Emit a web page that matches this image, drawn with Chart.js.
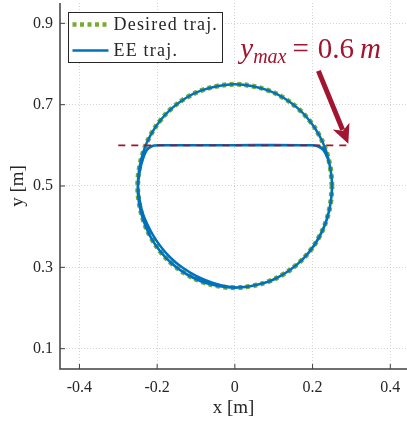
<!DOCTYPE html>
<html lang="en">
<head>
<meta charset="UTF-8">
<title>EE trajectory</title>
<script src="https://cdn.jsdelivr.net/npm/chart.js"></script>
<style>
    body { margin: 0; background: #fff; }
    #chart-container { width: 407px; height: 423px; }
</style>
</head>
<body>
<div id="chart-container"><canvas id="traj-chart"></canvas></div>
<script>
// desired circle (centre 0/0.5, radius 0.25)
const desiredX = [0.25, 0.246, 0.235, 0.217, 0.192, 0.161, 0.125, 0.086, 0.043, 0, -0.043, -0.086, -0.125, -0.161, -0.192, -0.217, -0.235, -0.246,
    -0.25, -0.246, -0.235, -0.217, -0.192, -0.161, -0.125, -0.086, -0.043, 0, 0.043, 0.086, 0.125, 0.161, 0.192, 0.217, 0.235, 0.246, 0.25];
const desiredY = [0.5, 0.543, 0.586, 0.625, 0.661, 0.692, 0.717, 0.735, 0.746, 0.75, 0.746, 0.735, 0.717, 0.692, 0.661, 0.625, 0.586, 0.543,
    0.5, 0.457, 0.414, 0.375, 0.339, 0.308, 0.283, 0.265, 0.254, 0.25, 0.254, 0.265, 0.283, 0.308, 0.339, 0.375, 0.414, 0.457, 0.5];

// measured end-effector path: one free lap, then laps clipped at y = 0.6
const eeX = [
    0, 0.043, 0.086, 0.125, 0.161, 0.192, 0.217, 0.235, 0.246, 0.25, 0.246, 0.235, 0.217, 0.192, 0.161, 0.125, 0.086, 0.043, 0,
    -0.043, -0.086, -0.125, -0.161, -0.192, -0.217, -0.235, -0.246, -0.25, -0.246, -0.235, -0.217, -0.192, -0.161, -0.125, -0.086, -0.043, 0,
    0.043, 0.086, 0.125, 0.161, 0.192, 0.217, 0.235, 0.246, 0.25, 0.247, 0.24, 0.228, 0.212, 0.195, 0.1, 0, -0.1, -0.19, -0.21, -0.224,
    -0.234, -0.243, -0.249, -0.244, -0.236, -0.225, -0.21, -0.19, -0.165, -0.136, -0.1, -0.06, -0.02, 0.02,
    0.06, 0.1, 0.14, 0.175, 0.205, 0.228, 0.243, 0.25, 0.248, 0.242, 0.232, 0.218, 0.2, 0.1, 0, -0.1, -0.2, -0.215, -0.227,
    -0.236, -0.244, -0.25, -0.247, -0.237, -0.22, -0.195, -0.163, -0.125, -0.085, -0.04, 0];
const eeY = [
    0.25, 0.254, 0.265, 0.283, 0.308, 0.339, 0.375, 0.414, 0.457, 0.5, 0.543, 0.586, 0.625, 0.661, 0.692, 0.717, 0.735, 0.746, 0.75,
    0.746, 0.735, 0.717, 0.692, 0.661, 0.625, 0.586, 0.543, 0.5, 0.457, 0.414, 0.375, 0.339, 0.308, 0.283, 0.265, 0.254, 0.25,
    0.254, 0.265, 0.283, 0.308, 0.339, 0.375, 0.414, 0.457, 0.5, 0.535, 0.565, 0.588, 0.598, 0.6, 0.6, 0.6, 0.6, 0.6, 0.599, 0.592,
    0.575, 0.545, 0.5, 0.46, 0.43, 0.405, 0.378, 0.35, 0.323, 0.3, 0.279, 0.263, 0.253, 0.251,
    0.258, 0.27, 0.292, 0.32, 0.355, 0.395, 0.44, 0.49, 0.53, 0.56, 0.585, 0.597, 0.6, 0.601, 0.6, 0.6, 0.6, 0.597, 0.588,
    0.568, 0.54, 0.5, 0.46, 0.42, 0.38, 0.343, 0.31, 0.284, 0.266, 0.254, 0.25];

const limitX = [-0.3, 0.3];
const limitY = [0.6, 0.6];

const xTicks = [-0.4, -0.2, 0, 0.2, 0.4];
const xTickLabels = ['-0.4', '-0.2', '0', '0.2', '0.4'];
const yTicks = [0.1, 0.3, 0.5, 0.7, 0.9];
const yTickLabels = ['0.1', '0.3', '0.5', '0.7', '0.9'];

const arrowFrom = [0.215, 0.783];
const arrowTo = [0.292, 0.604];
const labelAt = [0.014, 0.815];

const RED = '#A2142F', BLUE = '#0072BD', GREEN = '#77AC30';
const AXIS = '#404040', TEXT = '#262626';
const SERIF = '"Liberation Serif", "DejaVu Serif", serif';

const toPoints = (xs, ys) => xs.map((x, i) => ({ x, y: ys[i] }));

// spines, inward ticks, legend box, arrow + label
const decorations = {
    id: 'decorations',
    afterDatasetsDraw(chart) {
        const { ctx, scales: { x, y } } = chart;
        // arrow
        const x0 = x.getPixelForValue(arrowFrom[0]), y0 = y.getPixelForValue(arrowFrom[1]);
        const x1 = x.getPixelForValue(arrowTo[0]), y1 = y.getPixelForValue(arrowTo[1]);
        const ang = Math.atan2(y1 - y0, x1 - x0);
        const headLen = 19, headHalf = 9;
        const bx = x1 - headLen * Math.cos(ang), by = y1 - headLen * Math.sin(ang);
        ctx.save();
        ctx.strokeStyle = RED;
        ctx.fillStyle = RED;
        ctx.lineWidth = 5;
        ctx.beginPath();
        ctx.moveTo(x0, y0);
        ctx.lineTo(bx + 4 * Math.cos(ang), by + 4 * Math.sin(ang));
        ctx.stroke();
        ctx.beginPath();
        ctx.moveTo(x1, y1);
        ctx.lineTo(bx + headHalf * Math.sin(ang), by - headHalf * Math.cos(ang));
        ctx.lineTo(bx + 5 * Math.cos(ang), by + 5 * Math.sin(ang));
        ctx.lineTo(bx - headHalf * Math.sin(ang), by + headHalf * Math.cos(ang));
        ctx.closePath();
        ctx.fill();

        // y_max = 0.6 m, with TeX-like gaps around the relation
        let tx = x.getPixelForValue(labelAt[0]);
        const ty = y.getPixelForValue(labelAt[1]);
        ctx.textBaseline = 'alphabetic';
        const parts = [
            ['y', 'italic 29px ' + SERIF, 0, 0],
            ['max', 'italic 20px ' + SERIF, 5, 6],
            ['=', '29px ' + SERIF, 0, 9],
            ['0.6', '29px ' + SERIF, 0, 6],
            ['m', 'italic 29px ' + SERIF, 0, 0]
        ];
        parts.forEach(([s, f, dy, gap]) => {
            ctx.font = f;
            ctx.fillText(s, tx, ty + dy);
            tx += ctx.measureText(s).width + gap;
        });
        ctx.restore();
    },
    afterDraw(chart) {
        const { ctx, chartArea: ca, scales: { x, y } } = chart;
        ctx.save();
        ctx.strokeStyle = AXIS;
        ctx.lineWidth = 1.5;
        ctx.beginPath();
        ctx.moveTo(ca.left, ca.top);
        ctx.lineTo(ca.left, ca.bottom);
        ctx.lineTo(ca.right, ca.bottom);
        ctx.stroke();
        ctx.lineWidth = 1;
        xTicks.forEach(v => {
            const px = x.getPixelForValue(v);
            ctx.beginPath();
            ctx.moveTo(px, ca.bottom);
            ctx.lineTo(px, ca.bottom - 5);
            ctx.stroke();
        });
        yTicks.forEach(v => {
            const py = y.getPixelForValue(v);
            ctx.beginPath();
            ctx.moveTo(ca.left, py);
            ctx.lineTo(ca.left + 5, py);
            ctx.stroke();
        });

        // legend
        const lx = ca.left + 8.5, ly = ca.top + 9.5, lw = 154, lh = 50;
        ctx.fillStyle = '#fff';
        ctx.fillRect(lx, ly, lw, lh);
        ctx.strokeStyle = TEXT;
        ctx.lineWidth = 1;
        ctx.strokeRect(lx, ly, lw, lh);
        ctx.lineWidth = 4.5;
        ctx.strokeStyle = GREEN;
        ctx.setLineDash([4, 3.5]);
        ctx.beginPath();
        ctx.moveTo(lx + 4, ly + 12);
        ctx.lineTo(lx + 40, ly + 12);
        ctx.stroke();
        ctx.setLineDash([]);
        ctx.lineWidth = 2.5;
        ctx.strokeStyle = BLUE;
        ctx.beginPath();
        ctx.moveTo(lx + 4, ly + 38);
        ctx.lineTo(lx + 40, ly + 38);
        ctx.stroke();
        ctx.fillStyle = TEXT;
        ctx.font = '18px ' + SERIF;
        ctx.letterSpacing = '1.2px';
        ctx.textBaseline = 'middle';
        ctx.fillText('Desired traj.', lx + 45, ly + 13);
        ctx.fillText('EE traj.', lx + 45, ly + 39);
        ctx.restore();
    }
};

const ctx = document.getElementById('traj-chart').getContext('2d');
new Chart(ctx, {
    type: 'scatter',
    data: {
        datasets: [
            {
                label: 'y_max',
                data: toPoints(limitX, limitY),
                showLine: true,
                borderColor: RED,
                borderWidth: 1.6,
                borderDash: [7, 6],
                pointRadius: 0
            },
            {
                label: 'EE traj.',
                data: toPoints(eeX, eeY),
                showLine: true,
                borderColor: BLUE,
                borderWidth: 2.5,
                tension: 0.25,
                pointRadius: 0
            },
            {
                label: 'Desired traj.',
                data: toPoints(desiredX, desiredY),
                showLine: true,
                borderColor: GREEN,
                borderWidth: 5,
                borderDash: [4, 3.5],
                tension: 0.4,
                pointRadius: 0
            }
        ]
    },
    options: {
        responsive: true,
        maintainAspectRatio: false,
        animation: false,
        layout: { padding: { top: 3, right: 0, left: 0, bottom: 0 } },
        plugins: { legend: { display: false }, tooltip: { enabled: false } },
        scales: {
            x: {
                min: -0.45,
                max: 0.443,
                afterFit: s => { s.height = 54; s.paddingLeft = 0; s.paddingRight = 0; },
                afterBuildTicks: s => { s.ticks = xTicks.map(v => ({ value: v })); },
                grid: { color: '#d4d4d4', lineWidth: 1, drawTicks: false },
                border: { display: false, dash: [1, 2] },
                ticks: {
                    padding: 9,
                    color: TEXT,
                    font: { family: SERIF, size: 16 },
                    callback: (v, i) => xTickLabels[i]
                },
                title: {
                    display: true,
                    text: 'x [m]',
                    color: TEXT,
                    font: { family: SERIF, size: 19 },
                    padding: { top: 0, bottom: 4 }
                }
            },
            y: {
                min: 0.05,
                max: 0.95,
                afterFit: s => { s.width = 60; s.paddingTop = 0; s.paddingBottom = 0; },
                afterBuildTicks: s => { s.ticks = yTicks.map(v => ({ value: v })); },
                grid: { color: '#d4d4d4', lineWidth: 1, drawTicks: false },
                border: { display: false, dash: [1, 2] },
                ticks: {
                    padding: 7,
                    color: TEXT,
                    font: { family: SERIF, size: 16 },
                    callback: (v, i) => yTickLabels[i]
                },
                title: {
                    display: true,
                    text: 'y [m]',
                    color: TEXT,
                    font: { family: SERIF, size: 19 },
                    padding: { top: 7, bottom: 0 }
                }
            }
        }
    },
    plugins: [decorations]
});
</script>
</body>
</html>
